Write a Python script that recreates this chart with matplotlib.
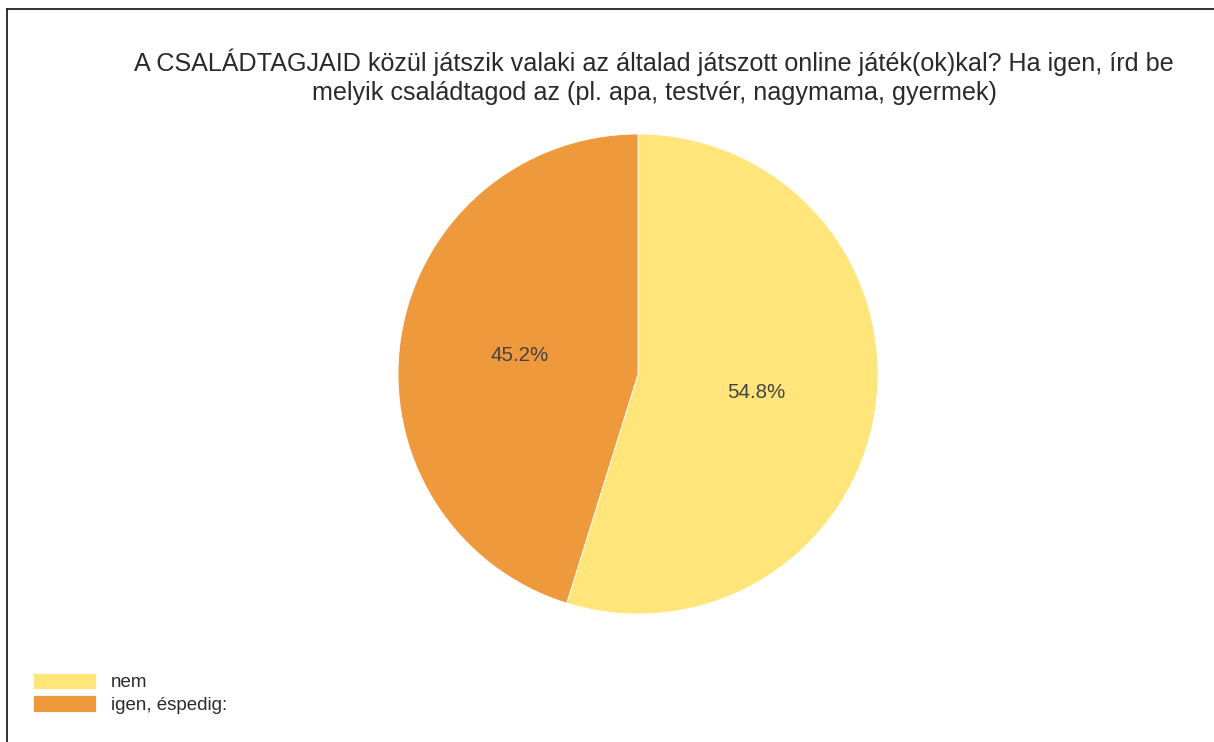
import matplotlib.pyplot as plt
from matplotlib.lines import Line2D

plt.rcParams['font.family'] = ['Liberation Sans', 'DejaVu Sans']

title = ("A CSALÁDTAGJAID közül játszik valaki az általad játszott online játék(ok)kal? Ha igen, írd be\n"
         "melyik családtagod az (pl. apa, testvér, nagymama, gyermek)")
labels = ["nem", "igen, éspedig:"]
values = [54.8, 45.2]
colours = ["#FFE57A", "#EE9A3C"]

W, H = 1214, 742
fig = plt.figure(figsize=(W / 100, H / 100), dpi=100)

# pie centred at (638, 374) px, radius 240 px
cx, cy, r = 638, 374, 240
ax = fig.add_axes([(cx - r) / W, (H - cy - r) / H, 2 * r / W, 2 * r / H])
wedges, texts, autotexts = ax.pie(values, colors=colours, startangle=90, counterclock=False,
                                  autopct="%.1f%%", pctdistance=0.5, radius=1,
                                  wedgeprops=dict(linewidth=0.6, edgecolor="white"),
                                  textprops=dict(fontsize=14.8, color="#444444"))
ax.set_xlim(-1, 1)
ax.set_ylim(-1, 1)
ax.set_aspect("equal")
ax.axis("off")

fig.text(654 / W, 1 - 77 / H, title, ha="center", va="center", fontsize=18.1,
         color="#2a2a2a", linespacing=1.27)

fig.legend(wedges, labels, loc="lower left", bbox_to_anchor=(33 / W, 28 / H),
           frameon=False, fontsize=13.5, handlelength=3.36, handleheight=1.0,
           labelspacing=0.2, handletextpad=0.8, borderpad=0, borderaxespad=0,
           labelcolor="#2a2a2a")

# frame (left and top edges visible)
fig.add_artist(Line2D([7 / W, 7 / W], [0, 1 - 9 / H], transform=fig.transFigure, color="#222222", lw=1.3))
fig.add_artist(Line2D([7 / W, 1], [1 - 9 / H, 1 - 9 / H], transform=fig.transFigure, color="#222222", lw=1.3))

fig.savefig("out.png", dpi=100)
